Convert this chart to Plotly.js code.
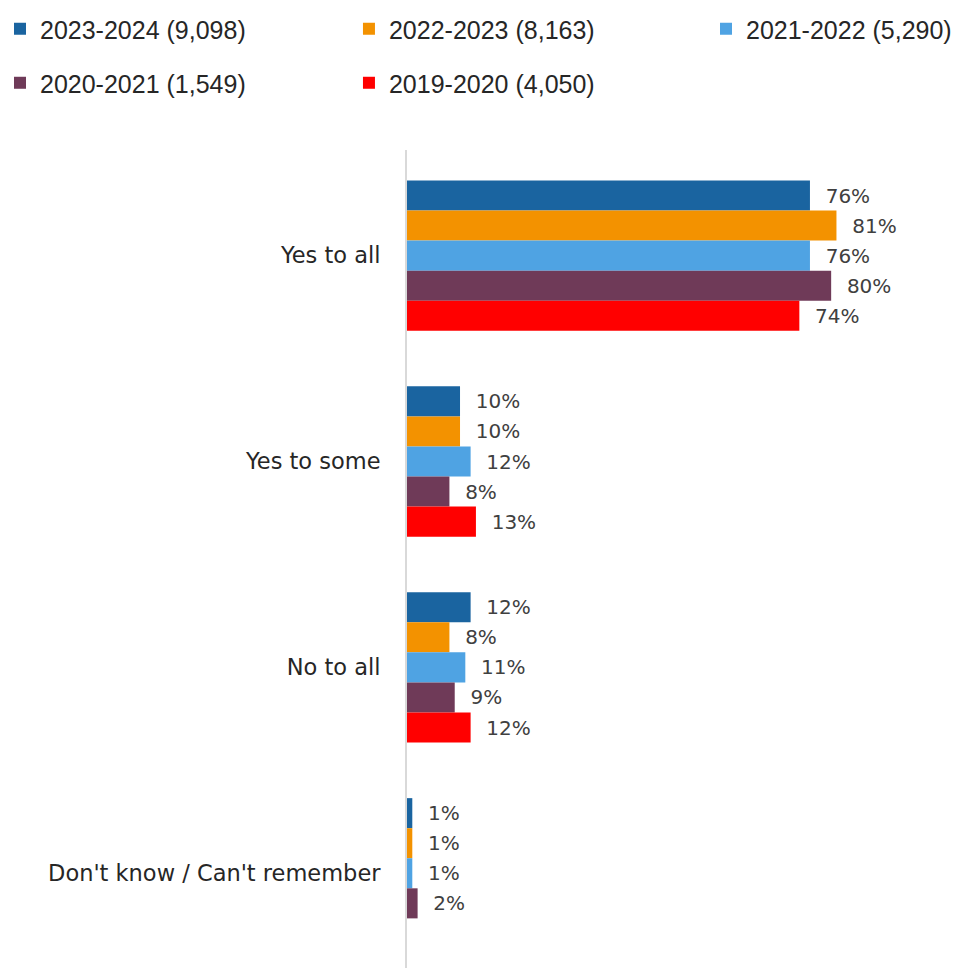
<!DOCTYPE html>
<html>
<head>
<meta charset="utf-8">
<script src="https://cdn.plot.ly/plotly-3.0.1.min.js"></script>
<style>html,body{margin:0;padding:0;background:#fff;}#chart{width:960px;height:968px;}</style>
</head>
<body>
<div id="chart"></div>
<script>
const categories = ["Yes to all", "Yes to some", "No to all", "Don't know / Can't remember"];
const seriesNames = ["2023-2024 (9,098)", "2022-2023 (8,163)", "2021-2022 (5,290)", "2020-2021 (1,549)", "2019-2020 (4,050)"];
const v2023_2024 = [76, 10, 12, 1];
const v2022_2023 = [81, 10, 8, 1];
const v2021_2022 = [76, 12, 11, 1];
const v2020_2021 = [80, 8, 9, 2];
const v2019_2020 = [74, 13, 12, null];
const colors = ["#1A64A0", "#F39200", "#4FA3E3", "#6F3A58", "#FF0000"];

const values = [v2023_2024, v2022_2023, v2021_2022, v2020_2021, v2019_2020];
const legendIds = ["legend", "legend2", "legend3", "legend4", "legend5"];
const legendPos = [[-0.003, 0.9938], [0.3635, 0.9938], [0.7354, 0.9938], [-0.003, 0.938], [0.3635, 0.938]];
const LEGFONT = "Liberation Sans Narrow, Arial Narrow, Liberation Sans, sans-serif";
const FONT = "DejaVu Sans, Verdana, sans-serif";

const traces = values.map((vals, i) => ({
  type: "bar",
  orientation: "h",
  name: seriesNames[i],
  y: categories,
  x: vals,
  marker: {color: colors[i]},
  text: vals.map(v => v == null ? "" : "\u00a0\u00a0" + v + "%"),
  textposition: "outside",
  cliponaxis: false,
  textfont: {family: FONT, size: 20, color: "#404040"},
  legend: legendIds[i],
  hoverinfo: "x+name"
}));

const layout = {
  width: 960,
  height: 968,
  margin: {l: 407, r: 0, t: 150, b: 0},
  paper_bgcolor: "#fff",
  plot_bgcolor: "#fff",
  barmode: "group",
  bargap: 0.27,
  bargroupgap: 0,
  xaxis: {range: [0, 104.3], visible: false, fixedrange: true},
  yaxis: {
    type: "category",
    categoryorder: "array",
    categoryarray: categories,
    range: [3.46, -0.513],
    showline: true,
    linecolor: "#D9D9D9",
    linewidth: 2,
    ticks: "",
    showgrid: false,
    ticklabelstandoff: 20,
    tickfont: {family: FONT, size: 22.5, color: "#262626"}
  },
  showlegend: true
};

legendIds.forEach((id, i) => {
  layout[id] = {
    orientation: "h",
    xref: "container", yref: "container",
    x: legendPos[i][0], y: legendPos[i][1], xanchor: "left", yanchor: "top",
    font: {family: LEGFONT, size: 25, color: "#262626"},
    itemwidth: 30,
    bgcolor: "rgba(0,0,0,0)"
  };
});

Plotly.newPlot("chart", traces, layout, {displayModeBar: false, staticPlot: true});
</script>
</body>
</html>
